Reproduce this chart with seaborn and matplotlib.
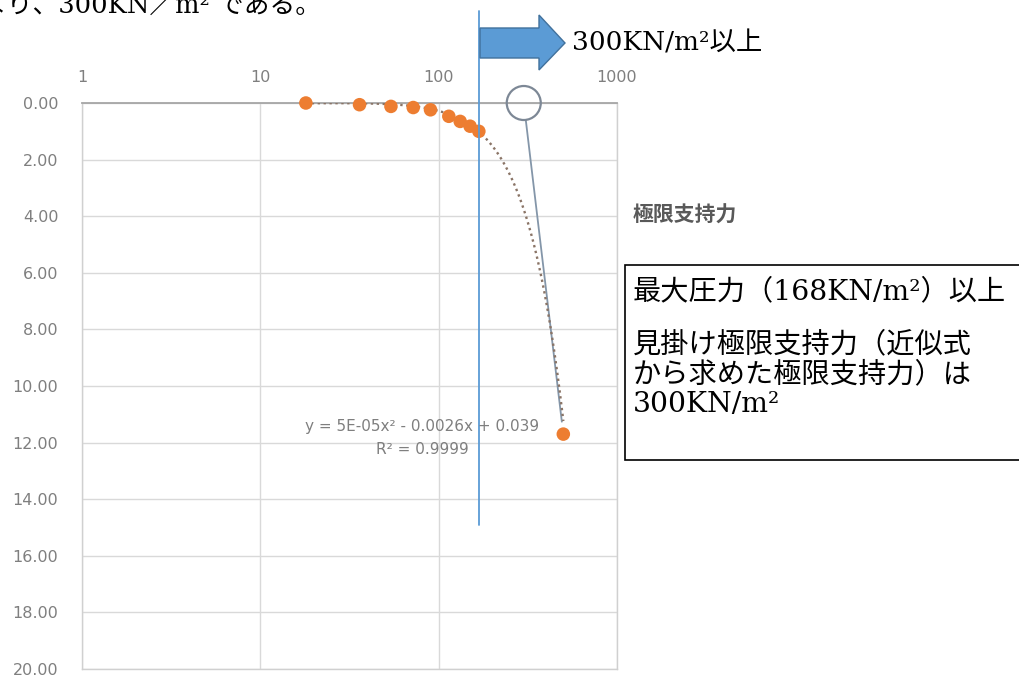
import numpy as np
import pandas as pd
import matplotlib
matplotlib.use("Agg")
import matplotlib.pyplot as plt
import seaborn as sns
from matplotlib.patches import Polygon, Rectangle
from matplotlib.ticker import FixedLocator, FixedFormatter, NullLocator

# Plate load test: load intensity (kN/m²) against settlement (mm)
pressure = [18, 36, 54, 72, 90, 114, 132, 150, 168, 500]
settlement = [0.00, 0.06, 0.12, 0.16, 0.24, 0.47, 0.65, 0.82, 1.00, 11.70]

# Quadratic trendline as printed on the chart
coef_a, coef_b, coef_c = 5e-05, -0.0026, 0.039
r_squared = 0.9999

x_ticks = [1, 10, 100, 1000]
x_tick_labels = ["1", "10", "100", "1000"]
y_ticks = list(range(0, 21, 2))
y_tick_labels = [f"{v:.2f}" for v in y_ticks]

max_pressure = 168          # largest applied load
ultimate_capacity = 300     # apparent ultimate bearing capacity

W, H = 1019, 676


def fx(x):
    return x / W


def fy(y):
    return 1 - y / H


sns.set_theme(style="white")
plt.rcParams["font.family"] = ["DejaVu Sans", "Noto Sans CJK JP"]
serif = ["DejaVu Serif", "Noto Sans CJK JP"]

fig = plt.figure(figsize=(W / 100, H / 100), dpi=100)
fig.patch.set_facecolor("white")

ax_l, ax_r, ax_t, ax_b = 82, 617, 103, 669
ax = fig.add_axes([fx(ax_l), fy(ax_b), (ax_r - ax_l) / W, (ax_b - ax_t) / H])
ax.set_facecolor("white")
ax.set_xscale("log")
ax.set_xlim(1, 1000)
ax.set_ylim(20, 0)

ax.xaxis.set_major_locator(FixedLocator(x_ticks))
ax.xaxis.set_major_formatter(FixedFormatter(x_tick_labels))
ax.xaxis.set_minor_locator(NullLocator())
ax.yaxis.set_major_locator(FixedLocator(y_ticks))
ax.yaxis.set_major_formatter(FixedFormatter(y_tick_labels))
ax.xaxis.tick_top()
ax.tick_params(axis="x", length=0, pad=13, labelsize=11.5, labelcolor="#7f7f7f")
ax.tick_params(axis="y", length=0, pad=17, labelsize=11.5, labelcolor="#7f7f7f")
ax.grid(True, color="#d9d9d9", linewidth=1.0)
for side in ["left", "right", "bottom"]:
    ax.spines[side].set_color("#d0d0d0")
    ax.spines[side].set_linewidth(1.0)
ax.spines["top"].set_color("#a6a6a6")
ax.spines["top"].set_linewidth(1.3)

# Trendline from the printed coefficients
trend_x = np.geomspace(pressure[0], pressure[-1], 300)
trend_y = coef_a * trend_x ** 2 + coef_b * trend_x + coef_c
sns.lineplot(x=trend_x, y=trend_y, ax=ax, color="#8a7466", linewidth=1.7,
             linestyle=(0, (1, 1.5)), sort=False, zorder=4)

# Measured points
sns.scatterplot(x=pressure, y=settlement, ax=ax, color="#ed7d31", s=95,
                edgecolor="none", zorder=5, clip_on=False)

# Trendline label
eq_text = (f"y = {coef_a:.0E}x² - {abs(coef_b):.4f}x + {coef_c:.3f}")
fig.text(fx(422), fy(426), eq_text, ha="center", va="center",
         fontsize=11, color="#7f7f7f")
fig.text(fx(422), fy(450), f"R² = {r_squared:.4f}", ha="center", va="center",
         fontsize=11, color="#7f7f7f")

# Marker at the apparent ultimate capacity and its leader line
ax.scatter([ultimate_capacity], [0], s=600, facecolors="none",
           edgecolors="#7d8896", linewidths=1.6, clip_on=False, zorder=6)
ax.annotate("", xy=(pressure[-1], settlement[-1]), xytext=(ultimate_capacity, 0),
            arrowprops=dict(arrowstyle="-", color="#8496a9", lw=1.3,
                            shrinkA=12.5, shrinkB=9), zorder=3)

# Vertical line at the maximum applied load
ax.plot([max_pressure, max_pressure], [-3.25, 14.9], color="#5b9bd5",
        linewidth=1.3, clip_on=False, zorder=7)

# Block arrow pointing to the capacity note
arrow_px = [(480, 28), (539, 28), (539, 15), (565, 43), (539, 70), (539, 58), (480, 58)]
fig.patches.append(Polygon([(fx(x), fy(y)) for x, y in arrow_px], closed=True,
                           transform=fig.transFigure, facecolor="#5b9bd5",
                           edgecolor="#41719c", linewidth=1.0))
fig.text(fx(572), fy(43), "300KN/m²以上", ha="left", va="center",
         fontsize=19, family=serif, color="black")

# Running text cut at the top of the page
fig.text(fx(-19), fy(13), "より、300KN／m² である。", ha="left", va="baseline",
         fontsize=18.5, family=serif, color="black")

# Side note
fig.text(fx(633), fy(215), "極限支持力", ha="left", va="center", fontsize=15,
         fontweight="bold", family=["Noto Sans CJK JP"], color="#595959")

fig.patches.append(Rectangle((fx(625), fy(460)), fx(1030 - 625), (460 - 265) / H,
                             transform=fig.transFigure, facecolor="white",
                             edgecolor="black", linewidth=1.2))
box_lines = [
    (292, "最大圧力（168KN/m²）以上"),
    (345, "見掛け極限支持力（近似式"),
    (375, "から求めた極限支持力）は"),
    (405, "300KN/m²"),
]
for y, line in box_lines:
    fig.text(fx(633), fy(y), line, ha="left", va="center", fontsize=20.3,
             family=serif, color="black")

fig.savefig("out.png", dpi=100, facecolor="white")
